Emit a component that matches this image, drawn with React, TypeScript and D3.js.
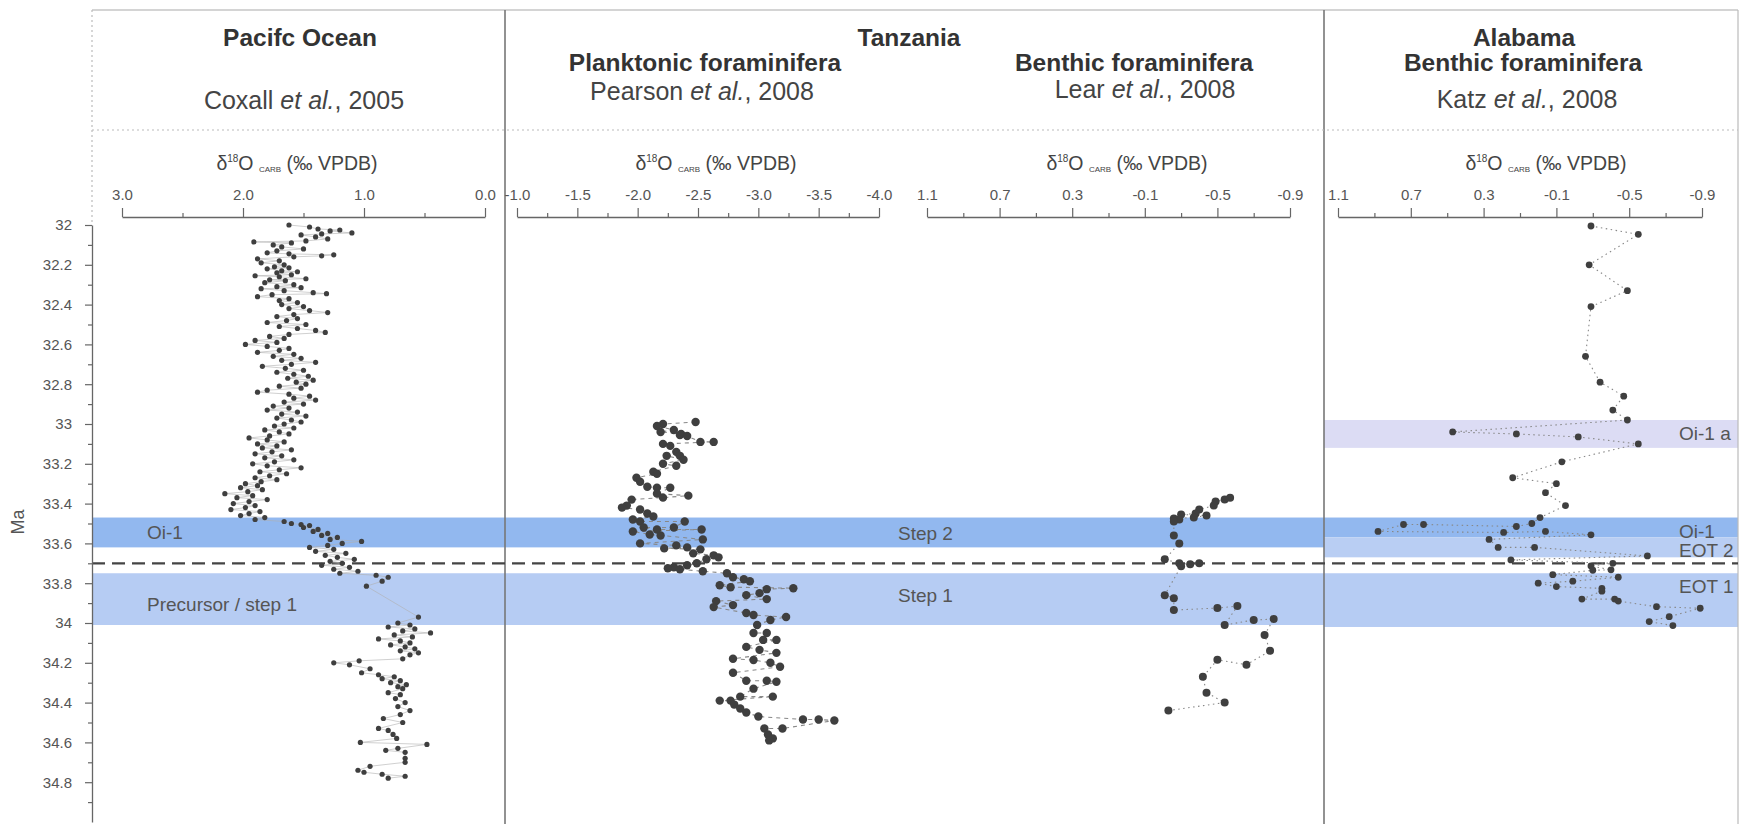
import React, { useEffect, useRef } from 'react'
import * as d3 from 'd3'

// [age Ma, d18O permil]
const coxall: [number, number][] = [
  [32.0, 1.62], [32.01, 1.45], [32.02, 1.38], [32.025, 1.2], [32.03, 1.28], [32.04, 1.1], [32.045, 1.35], [32.05, 1.52],
  [32.06, 1.4], [32.07, 1.3], [32.08, 1.48], [32.085, 1.91], [32.09, 1.6], [32.1, 1.75],
  [32.11, 1.68], [32.12, 1.5], [32.13, 1.72], [32.14, 1.8], [32.145, 1.62], [32.15, 1.25], [32.155, 1.35], [32.16, 1.58],
  [32.17, 1.88], [32.18, 1.7], [32.19, 1.85], [32.2, 1.66],
  [32.21, 1.74], [32.215, 1.62], [32.22, 1.8], [32.23, 1.68], [32.235, 1.55], [32.24, 1.72], [32.25, 1.6], [32.255, 1.9],
  [32.26, 1.7], [32.27, 1.48], [32.275, 1.78], [32.28, 1.65], [32.29, 1.82], [32.3, 1.58],
  [32.31, 1.72], [32.315, 1.52], [32.32, 1.85], [32.33, 1.66], [32.34, 1.42], [32.345, 1.31], [32.35, 1.76], [32.36, 1.88],
  [32.37, 1.62], [32.38, 1.7], [32.39, 1.55], [32.4, 1.68],
  [32.41, 1.5], [32.42, 1.62], [32.43, 1.45], [32.44, 1.3], [32.45, 1.58], [32.46, 1.72], [32.47, 1.55], [32.48, 1.64],
  [32.49, 1.8], [32.5, 1.48],
  [32.51, 1.7], [32.52, 1.55], [32.53, 1.4], [32.54, 1.32], [32.55, 1.62], [32.56, 1.78], [32.57, 1.66], [32.58, 1.9],
  [32.59, 1.72], [32.6, 1.98],
  [32.61, 1.8], [32.62, 1.62], [32.63, 1.7], [32.64, 1.88], [32.65, 1.58], [32.66, 1.75], [32.67, 1.52], [32.68, 1.68],
  [32.69, 1.4], [32.7, 1.6],
  [32.71, 1.84], [32.72, 1.65], [32.73, 1.5], [32.74, 1.72], [32.75, 1.58], [32.76, 1.46], [32.77, 1.63], [32.78, 1.42],
  [32.79, 1.56], [32.8, 1.48],
  [32.81, 1.7], [32.82, 1.52], [32.83, 1.8], [32.84, 1.88], [32.85, 1.62], [32.86, 1.45], [32.87, 1.58], [32.88, 1.4],
  [32.89, 1.66], [32.9, 1.5],
  [32.91, 1.75], [32.92, 1.62], [32.93, 1.8], [32.94, 1.55], [32.95, 1.68], [32.96, 1.48], [32.97, 1.72], [32.98, 1.6],
  [32.99, 1.52], [33.0, 1.66],
  [33.01, 1.74], [33.02, 1.58], [33.03, 1.82], [33.04, 1.7], [33.05, 1.62], [33.06, 1.78], [33.07, 1.95], [33.08, 1.8],
  [33.09, 1.66], [33.1, 1.88],
  [33.11, 1.72], [33.12, 1.84], [33.13, 1.6], [33.14, 1.76], [33.15, 1.9], [33.16, 1.68], [33.17, 1.82], [33.18, 1.58],
  [33.19, 1.74], [33.2, 1.92],
  [33.21, 1.8], [33.22, 1.52], [33.23, 1.7], [33.24, 1.86], [33.25, 1.64], [33.26, 1.78], [33.27, 1.9], [33.28, 1.72],
  [33.29, 1.85], [33.3, 1.98],
  [33.31, 1.88], [33.32, 2.02], [33.33, 1.84], [33.34, 1.96], [33.35, 2.15], [33.36, 1.92], [33.37, 2.05], [33.38, 1.8],
  [33.39, 1.95], [33.4, 2.08],
  [33.41, 1.9], [33.42, 1.98], [33.43, 2.1], [33.44, 1.86], [33.45, 1.95], [33.46, 2.02], [33.47, 1.82], [33.48, 1.9],
  [33.49, 1.66], [33.5, 1.6], [33.505, 1.52], [33.51, 1.45], [33.52, 1.5], [33.53, 1.38], [33.54, 1.42], [33.55, 1.3],
  [33.56, 1.35], [33.57, 1.22], [33.58, 1.28], [33.59, 1.02], [33.6, 1.18],
  [33.61, 1.3], [33.62, 1.45], [33.63, 1.25], [33.64, 1.4], [33.65, 1.15], [33.66, 1.32], [33.67, 1.22], [33.68, 1.08],
  [33.69, 1.28], [33.7, 1.18],
  [33.71, 1.35], [33.72, 1.12], [33.73, 1.25], [33.74, 1.05], [33.75, 1.2], [33.76, 0.9], [33.77, 0.8], [33.79, 0.85],
  [33.815, 0.98],
  [33.97, 0.55], [34.0, 0.72], [34.01, 0.62], [34.02, 0.8], [34.03, 0.58], [34.04, 0.68], [34.05, 0.45], [34.06, 0.75],
  [34.07, 0.6], [34.08, 0.88], [34.09, 0.7], [34.1, 0.62], [34.11, 0.78], [34.12, 0.66], [34.13, 0.58], [34.14, 0.7],
  [34.15, 0.55], [34.16, 0.62], [34.18, 0.68], [34.19, 1.04], [34.2, 1.25], [34.21, 1.12], [34.23, 0.95], [34.25, 1.02],
  [34.26, 0.88], [34.27, 0.75], [34.28, 0.85], [34.29, 0.7], [34.3, 0.78], [34.31, 0.65], [34.32, 0.72], [34.33, 0.68],
  [34.35, 0.8], [34.36, 0.7], [34.38, 0.74], [34.4, 0.66], [34.42, 0.72], [34.44, 0.62], [34.46, 0.7], [34.48, 0.84],
  [34.5, 0.68], [34.53, 0.88], [34.54, 0.8], [34.56, 0.76], [34.58, 0.73], [34.6, 1.03], [34.61, 0.48], [34.63, 0.72],
  [34.64, 0.82], [34.65, 0.66], [34.68, 0.66], [34.7, 0.66], [34.72, 0.95], [34.74, 1.05], [34.75, 1.0], [34.76, 0.85],
  [34.77, 0.66], [34.78, 0.8]
]

const pearson: [number, number][] = [
  [32.99, -2.48], [33.0, -2.21], [33.01, -2.16], [33.03, -2.3], [33.04, -2.19], [33.05, -2.36], [33.055, -2.35],
  [33.06, -2.41], [33.09, -2.52], [33.09, -2.63], [33.1, -2.21], [33.11, -2.27], [33.14, -2.32], [33.16, -2.35],
  [33.16, -2.24], [33.18, -2.38], [33.2, -2.21], [33.21, -2.32], [33.24, -2.13], [33.25, -2.16], [33.27, -1.99],
  [33.29, -2.02], [33.315, -2.08], [33.32, -2.16], [33.32, -2.27], [33.35, -2.16], [33.36, -2.42], [33.37, -2.21],
  [33.38, -1.95], [33.41, -1.91], [33.42, -1.87], [33.43, -2.02], [33.45, -2.08], [33.465, -2.13], [33.48, -1.96],
  [33.49, -2.02], [33.49, -2.39], [33.52, -2.3], [33.52, -2.05], [33.53, -2.16], [33.53, -2.53], [33.54, -1.96],
  [33.555, -2.1], [33.56, -2.19], [33.58, -2.54], [33.6, -2.02], [33.61, -2.32], [33.62, -2.41], [33.625, -2.22],
  [33.63, -2.52], [33.65, -2.46], [33.66, -2.63], [33.67, -2.67], [33.68, -2.57], [33.7, -2.49], [33.71, -2.41],
  [33.72, -2.3], [33.725, -2.25], [33.73, -2.35], [33.74, -2.54], [33.75, -2.74], [33.77, -2.79], [33.78, -2.88],
  [33.79, -2.93], [33.81, -2.68], [33.82, -2.77], [33.825, -3.29], [33.83, -3.07], [33.85, -3.01], [33.86, -2.9],
  [33.88, -3.07], [33.89, -2.65], [33.91, -2.79], [33.92, -2.63], [33.95, -2.9], [33.96, -2.96], [33.97, -3.23],
  [33.985, -3.1], [34.01, -2.99], [34.05, -2.96], [34.05, -3.07], [34.085, -3.04], [34.085, -3.15], [34.12, -2.9],
  [34.135, -3.01], [34.15, -3.15], [34.18, -2.79], [34.186, -2.96], [34.2, -3.1], [34.22, -3.18], [34.25, -2.79],
  [34.29, -2.9], [34.29, -3.07], [34.295, -3.15], [34.33, -2.96], [34.37, -2.85], [34.37, -3.12], [34.39, -2.68],
  [34.39, -2.77], [34.41, -2.8], [34.43, -2.85], [34.45, -2.9], [34.47, -3.0], [34.485, -3.37], [34.485, -3.5],
  [34.49, -3.63], [34.53, -3.2], [34.53, -3.05], [34.56, -3.08], [34.58, -3.12], [34.59, -3.09]
]

const lear: [number, number][] = [
  [33.37, -0.57], [33.38, -0.54], [33.39, -0.49], [33.41, -0.48], [33.43, -0.4], [33.45, -0.38], [33.455, -0.3],
  [33.46, -0.44], [33.47, -0.37], [33.475, -0.26], [33.48, -0.29], [33.49, -0.26], [33.56, -0.26], [33.6, -0.29],
  [33.68, -0.21], [33.7, -0.29], [33.705, -0.35], [33.7, -0.4], [33.715, -0.3], [33.86, -0.21], [33.875, -0.26],
  [33.935, -0.26], [33.925, -0.5], [33.915, -0.61], [34.01, -0.54], [33.985, -0.7], [33.98, -0.81], [34.06, -0.76],
  [34.14, -0.79], [34.21, -0.66], [34.185, -0.5], [34.27, -0.42], [34.35, -0.44], [34.4, -0.54], [34.44, -0.23]
]

const katz: [number, number][] = [
  [32.005, -0.29], [32.047, -0.55], [32.2, -0.28], [32.33, -0.49], [32.41, -0.29], [32.66, -0.26], [32.79, -0.34],
  [32.86, -0.47], [32.93, -0.41], [32.98, -0.49], [33.04, 0.47], [33.05, 0.12], [33.065, -0.22], [33.1, -0.55],
  [33.19, -0.13], [33.27, 0.14], [33.3, -0.1], [33.345, -0.04], [33.41, -0.15], [33.47, -0.01], [33.5, 0.035],
  [33.515, 0.12], [33.505, 0.63], [33.505, 0.74], [33.54, 0.88], [33.545, 0.19], [33.54, -0.04], [33.557, -0.29],
  [33.58, 0.27], [33.62, 0.22], [33.62, 0.02], [33.663, -0.6], [33.683, 0.15], [33.7, -0.41], [33.713, -0.29],
  [33.733, -0.4], [33.735, -0.3], [33.757, -0.08], [33.77, -0.44], [33.79, -0.19], [33.8, 0.0], [33.817, -0.1],
  [33.826, -0.35], [33.84, -0.35], [33.88, -0.24], [33.88, -0.42], [33.89, -0.44], [33.918, -0.65], [33.926, -0.89],
  [33.968, -0.72], [33.993, -0.61], [34.013, -0.74]
]

// event bands (Ma)
const tanzBands = [
  { label: 'Oi-1', alt: 'Step 2', from: 33.47, to: 33.62 },
  { label: 'Precursor / step 1', alt: 'Step 1', from: 33.75, to: 34.01 }
]
const alabamaBands = [
  { label: 'Oi-1 a', from: 32.98, to: 33.12 },
  { label: 'Oi-1', from: 33.47, to: 33.57 },
  { label: 'EOT 2', from: 33.57, to: 33.67 },
  { label: 'EOT 1', from: 33.75, to: 34.02 }
]
const boundaryAge = 33.7

const yMajor = d3.range(32, 34.81, 0.2).map(v => +v.toFixed(1))
const yMinor = d3.range(32.1, 35, 0.2).map(v => +v.toFixed(1))

const FONT = 'Liberation Sans, Arial, sans-serif'
const AXIS_Y = 217

const panels = [
  { id: 'p1', domain: [3.0, 0.0], range: [122, 485], major: [3, 2, 1, 0], minor: [2.5, 1.5, 0.5], data: coxall, r: 2.6, line: 'solid', titleX: 297 },
  { id: 'p2', domain: [-1.0, -4.0], range: [517, 879], major: [-1, -1.5, -2, -2.5, -3, -3.5, -4], minor: [-1.25, -1.75, -2.25, -2.75, -3.25, -3.75], data: pearson, r: 4.2, line: 'dash', titleX: 716 },
  { id: 'p3', domain: [1.1, -0.9], range: [927, 1290], major: [1.1, 0.7, 0.3, -0.1, -0.5, -0.9], minor: [0.9, 0.5, 0.1, -0.3, -0.7], data: lear, r: 4.0, line: 'dot', titleX: 1127 },
  { id: 'p4', domain: [1.1, -0.9], range: [1338, 1702], major: [1.1, 0.7, 0.3, -0.1, -0.5, -0.9], minor: [0.9, 0.5, 0.1, -0.3, -0.7], data: katz, r: 3.4, line: 'dot', titleX: 1546 }
]

const App = () => {
  const axesRef = useRef(null)
  const y = d3.scaleLinear().domain([32, 35]).range([225, 822])
  const left = 92, right = 1738, top = 10, bottom = 824

  useEffect(() => {
    const g = d3.select(axesRef.current)
    g.selectAll('*').remove()
    panels.forEach(p => {
      const x = d3.scaleLinear().domain(p.domain).range(p.range)
      g.append('g').attr('transform', `translate(0,${AXIS_Y})`)
        .call(d3.axisTop(x).tickValues(p.major).tickFormat(d => (+d).toFixed(1)).tickSize(9).tickSizeOuter(0).tickPadding(8))
      g.append('g').attr('transform', `translate(0,${AXIS_Y})`)
        .call(d3.axisTop(x).tickValues(p.minor).tickFormat(() => '').tickSize(4).tickSizeOuter(0))
        .select('.domain').remove()
    })
    g.append('g').attr('transform', `translate(${left},0)`)
      .call(d3.axisLeft(y).tickValues(yMajor).tickFormat(d => String(+(+d).toFixed(1))).tickSize(7).tickSizeOuter(0).tickPadding(13))
    g.append('g').attr('transform', `translate(${left},0)`)
      .call(d3.axisLeft(y).tickValues(yMinor).tickFormat(() => '').tickSize(4).tickSizeOuter(0))
      .select('.domain').remove()
    g.selectAll('.domain').attr('stroke', '#666').attr('stroke-width', 1.3)
    g.selectAll('.tick line').attr('stroke', '#666').attr('stroke-width', 1.2)
    g.selectAll('.tick text').attr('fill', '#555').attr('font-size', 15).attr('font-family', FONT)
  }, [])

  const axisTitle = (cx: number) => (
    <text x={cx} y={170} textAnchor="middle" fontSize={19.5} fill="#444">
      δ<tspan fontSize={10} dy={-8}>18</tspan><tspan dy={8}>O </tspan>
      <tspan fontSize={8} dy={2}>CARB</tspan><tspan dy={-2}> (‰ VPDB)</tspan>
    </text>
  )

  const cite = (cx: number, by: number, name: string, year: string) => (
    <text x={cx} y={by} textAnchor="middle" fontSize={25} fill="#444">
      {name} <tspan fontStyle="italic">et al.</tspan>, {year}
    </text>
  )

  return (
    <svg width={1747} height={824} style={{ position: 'absolute', left: 0, top: 0, background: '#fff' }} fontFamily={FONT}>
      {/* bands across Pacific + Tanzania */}
      {tanzBands.map((b, i) => (
        <rect key={'tb' + i} x={left} width={1324 - left} y={y(b.from)} height={y(b.to) - y(b.from)}
          fill={i === 0 ? '#92b8ef' : '#b6ccf3'} />
      ))}
      {alabamaBands.map((b, i) => (
        <rect key={'ab' + i} x={1324} width={right - 1324} y={y(b.from)} height={y(b.to) - y(b.from)}
          fill={['#dcdcf4', '#92b8ef', '#b9cef3', '#b6ccf3'][i]} />
      ))}
      {/* band labels */}
      {tanzBands.map((b, i) => (
        <g key={'tl' + i} fontSize={19} fill="#555">
          <text x={147} y={y((b.from + b.to) / 2) + 7 + i * 5}>{b.label}</text>
          <text x={898} y={y((b.from + b.to) / 2) + 8 - i * 5}>{b.alt}</text>
        </g>
      ))}
      {alabamaBands.map((b, i) => (
        <text key={'al' + i} x={1679} y={y(b.from) + 20} fontSize={19} fill="#555">{b.label}</text>
      ))}

      {/* frame */}
      <line x1={left} x2={right} y1={top} y2={top} stroke="#aaa" strokeWidth={1.2} />
      <line x1={left} x2={left} y1={top} y2={225} stroke="#bbb" strokeWidth={1.2} strokeDasharray="2 3" />
      <line x1={right} x2={right} y1={top} y2={bottom} stroke="#bbb" strokeWidth={1.2} />
      <line x1={505} x2={505} y1={top} y2={bottom} stroke="#777" strokeWidth={1.6} />
      <line x1={1324} x2={1324} y1={top} y2={bottom} stroke="#777" strokeWidth={1.6} />
      <line x1={left} x2={right} y1={130} y2={130} stroke="#bbb" strokeWidth={1.2} strokeDasharray="2 3" />

      {/* boundary */}
      <line x1={left} x2={right} y1={y(boundaryAge)} y2={y(boundaryAge)} stroke="#444" strokeWidth={2.2} strokeDasharray="13 7" />

      {/* data */}
      {panels.map(p => {
        const x = d3.scaleLinear().domain(p.domain).range(p.range)
        const line = d3.line<[number, number]>().x(d => x(d[1])).y(d => y(d[0]))
        const dash = p.line === 'solid' ? undefined : p.line === 'dash' ? '4 4' : '1.5 3.5'
        return (
          <g key={p.id}>
            <path d={line(p.data) || ''} fill="none" stroke={p.line === 'solid' ? '#b0b0b0' : '#888'}
              strokeWidth={p.line === 'solid' ? 0.6 : 1.1} strokeDasharray={dash} />
            {p.data.map((d, i) => (
              <circle key={i} cx={x(d[1])} cy={y(d[0])} r={p.r} fill="#3f3f3f" />
            ))}
          </g>
        )
      })}

      <g ref={axesRef} />

      {/* titles */}
      <g fontWeight="bold" fontSize={24.5} fill="#333" textAnchor="middle">
        <text x={300} y={46}>Pacifc Ocean</text>
        <text x={909} y={46}>Tanzania</text>
        <text x={705} y={71}>Planktonic foraminifera</text>
        <text x={1134} y={71}>Benthic foraminifera</text>
        <text x={1524} y={46}>Alabama</text>
        <text x={1523} y={71}>Benthic foraminifera</text>
      </g>
      {cite(304, 109, 'Coxall', '2005')}
      {cite(702, 100, 'Pearson', '2008')}
      {cite(1145, 98, 'Lear', '2008')}
      {cite(1527, 108, 'Katz', '2008')}
      {panels.map(p => <g key={'t' + p.id}>{axisTitle(p.titleX)}</g>)}

      <text transform="translate(24,522) rotate(-90)" textAnchor="middle" fontSize={18} fill="#555">Ma</text>
    </svg>
  )
}

export default App
